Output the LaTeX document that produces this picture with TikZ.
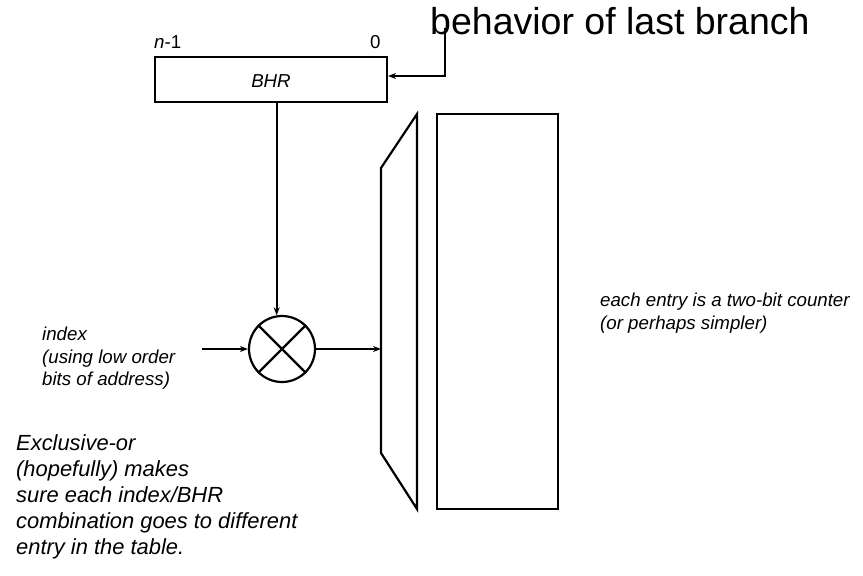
\documentclass[tikz,border=0pt]{standalone}
\usepackage{fontspec}
\setmainfont{Liberation Sans}
\usetikzlibrary{arrows.meta}
\begin{document}
\begin{tikzpicture}[x=1pt,y=-1pt,
  box/.style={draw,line width=2.2pt,inner sep=0pt},
  conn/.style={line width=2pt,-{Stealth[length=8pt,width=6pt]}},
  lbl/.style={inner sep=0pt,font=\fontsize{18.7}{22.5}\selectfont\itshape,align=left},
  note/.style={inner sep=0pt,font=\fontsize{21.9}{26}\selectfont\itshape,align=left}]
\useasboundingbox (0,0) rectangle (863,576);
% BHR
\node[box,minimum width=232pt,minimum height=45pt] (bhr) at (271,79.5) {};
\node[inner sep=0pt,anchor=base,font=\fontsize{18.7}{22}\selectfont\itshape] (bhrt) at (271,87) {BHR};
\node[inner sep=0pt,anchor=base west,font=\fontsize{18.7}{22}\selectfont] (nm1) at (154,48) {\textit{n}-1};
\node[inner sep=0pt,anchor=base west,font=\fontsize{18.7}{22}\selectfont] (zero) at (370,48) {0};
% behavior text
\node[inner sep=0pt,anchor=base west,font=\fontsize{37.5}{44}\selectfont] (beh) at (430,34) {behavior of last branch};
\coordinate (bt) at (445,28);
\coordinate (bc) at (445,76);
\draw[conn] (bt) -- (bc) -- (bhr.east |- bc);
% XOR
\node[draw,circle,line width=2.2pt,minimum size=66pt,inner sep=0pt] (xorc) at (282,349) {};
\draw[line width=2.2pt] (xorc.45) -- (xorc.225) (xorc.135) -- (xorc.315);
\draw[conn] (bhr.south -| xorc.99) -- (xorc.99);
% mux
\coordinate (m1) at (417,114);
\coordinate (m2) at (381,168);
\coordinate (m3) at (381,453);
\coordinate (m4) at (417,509);
\draw[line width=2.2pt,line join=miter] (m1) -- (m2) -- (m3) -- (m4) -- cycle;
\coordinate (min) at (381,349);
\draw[conn] (xorc.east) -- (min);
% index
\coordinate (idx) at (202,349);
\draw[conn] (idx) -- (xorc.west);
% table
\node[box,minimum width=121pt,minimum height=395pt] (tab) at (497.5,311.5) {};
% labels
\node[lbl,anchor=north west] (ilbl) at (42,327) {index\\(using low order\\bits of address)};
\node[lbl,anchor=north west] (elbl) at (600,293) {each entry is a two-bit counter\\(or perhaps simpler)};
\node[note,anchor=north west] (xlbl) at (16,434) {Exclusive-or\\(hopefully) makes\\sure each index/BHR\\combination goes to different\\entry in the table.};
\end{tikzpicture}
\end{document}
